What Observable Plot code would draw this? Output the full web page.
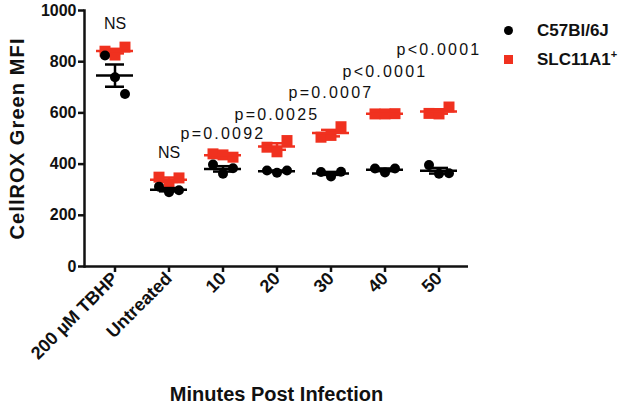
<!DOCTYPE html>
<html>
<head>
<meta charset="utf-8">
<script src="https://cdn.jsdelivr.net/npm/d3@7"></script>
<script src="https://cdn.jsdelivr.net/npm/@observablehq/plot@0.6"></script>
<style>
  html, body { margin: 0; padding: 0; background: #fff; }
  #wrap { position: relative; width: 642px; height: 407px; font-family: "Liberation Sans", Arial, sans-serif; }
  #legend { position: absolute; left: 500px; top: 16px; font-weight: bold; font-size: 17px; color: #111; }
  .lg { display: flex; align-items: center; height: 29px; }
  .sw { width: 16px; display: flex; justify-content: center; margin-right: 21px; }
  .dot { width: 9px; height: 9px; border-radius: 50%; background: #000; }
  .sq { width: 9px; height: 9px; background: #f0311f; }
  sup { font-size: 11px; vertical-align: 7px; line-height: 0; }
</style>
</head>
<body>
<div id="wrap"></div>
<script>
const categories = ["200 µM TBHP", "Untreated", "10", "20", "30", "40", "50"];
const c57 = [[824, 739, 674], [312, 290, 298], [398, 362, 384], [375, 366, 375], [369, 352, 370], [383, 367, 383], [396, 362, 364]];
const slc = [[841, 826, 857], [349, 322, 346], [440, 436, 427], [466, 448, 492], [505, 512, 546], [596, 596, 597], [598, 596, 623]];
const annoLabels = ["NS", "NS", "p=0.0092", "p=0.0025", "p=0.0007", "p<0.0001", "p<0.0001"];
const annoY = [948, 443, 520, 594, 678, 762, 848];
const yTicks = [0, 200, 400, 600, 800, 1000];
const seriesNames = ["C57Bl/6J", "SLC11A1+"];

const RED = "#f0311f";
const offs = [-10, 0, 10];

function rowsOf(arr, s) {
  const out = [];
  categories.forEach((cat, i) => arr[i].forEach((v, j) => out.push({cat, v, j, s})));
  return out;
}
function statsOf(arr) {
  return categories.map((cat, i) => {
    const m = d3.mean(arr[i]);
    const sem = d3.deviation(arr[i]) / Math.sqrt(arr[i].length);
    return {cat, mean: m, lo: m - sem, hi: m + sem};
  });
}
const rowsB = rowsOf(c57, seriesNames[0]);
const rowsR = rowsOf(slc, seriesNames[1]);
const statB = statsOf(c57);
const statR = statsOf(slc);
const anno = categories.map((cat, i) => ({cat, label: annoLabels[i], y: annoY[i]}));

function seriesMarks(rows, stats, color, symbol, r) {
  const m = [];
  m.push(Plot.ruleX(stats, {x: "cat", y1: "lo", y2: "hi", stroke: color, strokeWidth: 2.5}));
  m.push(Plot.tickY(stats, {x: "cat", y: "lo", stroke: color, strokeWidth: 2.5, insetLeft: 9, insetRight: 9}));
  m.push(Plot.tickY(stats, {x: "cat", y: "hi", stroke: color, strokeWidth: 2.5, insetLeft: 9, insetRight: 9}));
  offs.forEach((o, j) => {
    m.push(Plot.dot(rows.filter(d => d.j === j), {x: "cat", y: "v", symbol, r, fill: color, stroke: "none", dx: o}));
  });
  m.push(Plot.tickY(stats, {x: "cat", y: "mean", stroke: color, strokeWidth: 2.5}));
  return m;
}

const chart = Plot.plot({
  width: 642,
  height: 407,
  marginLeft: 84,
  marginRight: 174,
  marginTop: 10,
  marginBottom: 141,
  style: {fontFamily: "Liberation Sans, Arial, sans-serif", color: "#111", background: "#fff"},
  x: {type: "band", domain: categories, paddingInner: 0.32, paddingOuter: 0.16},
  y: {domain: [0, 1000]},
  marks: [
    Plot.frame({anchor: "left", strokeWidth: 2.5, stroke: "#111"}),
    Plot.ruleY([0], {strokeWidth: 2.5, stroke: "#111"}),
    Plot.axisY({ticks: yTicks, tickSize: 6, tickPadding: 2, fontSize: 16, fontWeight: "bold", strokeWidth: 2.5, label: null, tickFormat: d3.format("d")}),
    Plot.axisX({tickRotate: -45, tickSize: 6, tickPadding: 3, fontSize: 18, fontWeight: "bold", strokeWidth: 2.5, label: null}),
    ...seriesMarks(rowsR, statR, RED, "square", 6.2),
    ...seriesMarks(rowsB, statB, "#000", "circle", 5),
    Plot.text(anno, {x: "cat", y: "y", text: "label", fontSize: 16, fill: "#111"}),
    Plot.text(["Minutes Post Infection"], {text: d => d, frameAnchor: "bottom", textAnchor: "middle", lineAnchor: "bottom", dy: 134, fontSize: 20, fontWeight: "bold", fill: "#111"}),
    Plot.text(["CellROX Green MFI"], {text: d => d, frameAnchor: "left", textAnchor: "middle", rotate: -90, dx: -67, fontSize: 20, fontWeight: "bold", fill: "#111"})
  ]
});

const sel = d3.select(chart).selectAll("text");
sel.filter(function() { return /^p[=<]/.test(this.textContent); }).attr("letter-spacing", "2.2px");
sel.filter(function() { return this.textContent === "CellROX Green MFI"; }).attr("letter-spacing", "1.1px");

const wrap = document.getElementById("wrap");
wrap.appendChild(chart);
const legend = document.createElement("div");
legend.id = "legend";
legend.innerHTML = `<div class="lg"><div class="sw"><div class="dot"></div></div><span>${seriesNames[0]}</span></div>
<div class="lg"><div class="sw"><div class="sq"></div></div><span>SLC11A1<sup>+</sup></span></div>`;
wrap.appendChild(legend);
</script>
</body>
</html>
